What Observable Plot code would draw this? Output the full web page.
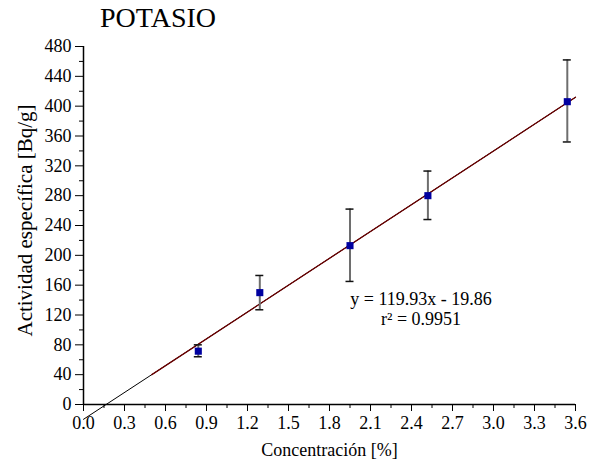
<!DOCTYPE html>
<html>
<head>
<meta charset="utf-8">
<script src="https://cdn.jsdelivr.net/npm/d3@7"></script>
<script src="https://cdn.jsdelivr.net/npm/@observablehq/plot@0.6"></script>
<style>
  body { margin: 0; background: #fff; }
  #wrap { position: relative; width: 598px; height: 470px; }
  #title { position: absolute; left: 100px; top: 2px; font-size: 28px; color: #000; }
  svg text, svg tspan, #title { font-family: 'Liberation Serif', 'Times New Roman', serif !important; }
</style>
</head>
<body>
<div id="wrap"><div id="title">POTASIO</div></div>
<script>
// Data
const concentration = [0.84, 1.29, 1.95, 2.52, 3.54];
const activity      = [71.5, 150, 213, 280, 406];
const errLow        = [64, 127, 165, 248, 352];
const errHigh       = [80, 173, 262, 313, 462];

// Fit line (y = 119.93x - 19.86)
const fitFullX = [0, 3.6];
const fitFullY = [-19.86, 411.89];
const fitPartX = [0.5, 3.6];
const fitPartY = [40.1, 411.89];

const xTicks = [0, 0.3, 0.6, 0.9, 1.2, 1.5, 1.8, 2.1, 2.4, 2.7, 3.0, 3.3, 3.6];
const xMinor = [0.15, 0.45, 0.75, 1.05, 1.35, 1.65, 1.95, 2.25, 2.55, 2.85, 3.15, 3.45];
const yTicks = [0, 40, 80, 120, 160, 200, 240, 280, 320, 360, 400, 440, 480];
const yMinor = [20, 60, 100, 140, 180, 220, 260, 300, 340, 380, 420, 460];

const annotations = ["y = 119.93x - 19.86", "r² = 0.9951"];
const annotX = [2.47, 2.47];
const annotY = [141, 114];

const points = concentration.map((c, i) => ({x: c, y: activity[i], lo: errLow[i], hi: errHigh[i]}));
const fitFull = fitFullX.map((x, i) => ({x, y: fitFullY[i]}));
const fitPart = fitPartX.map((x, i) => ({x, y: fitPartY[i]}));
const notes = annotations.map((t, i) => ({t, x: annotX[i], y: annotY[i]}));

const FF = "'Liberation Serif', serif";

const chart = Plot.plot({
  width: 598,
  height: 470,
  marginLeft: 83,
  marginRight: 23,
  marginTop: 46,
  marginBottom: 66,
  style: {fontFamily: FF, fontSize: "18px", color: "#000", background: "#fff"},
  x: {domain: [0, 3.6]},
  y: {domain: [0, 480]},
  marks: [
    Plot.axisY({ticks: yTicks, tickSize: 8, tickPadding: 4, fontSize: 18, fontFamily: FF, label: null, tickFormat: d => String(d)}),
    Plot.axisY({ticks: yMinor, tickSize: 4, text: null, label: null}),
    Plot.axisX({ticks: xTicks, tickSize: 7, tickPadding: 5, fontSize: 18, fontFamily: FF, label: null, tickFormat: d => d.toFixed(1)}),
    Plot.axisX({ticks: xMinor, tickSize: 4, text: null, label: null}),
    Plot.ruleX([0], {y1: 0, y2: 480, stroke: "#000", strokeWidth: 1.5}),
    Plot.ruleY([0], {x1: 0, x2: 3.6, stroke: "#000", strokeWidth: 1.5}),
    Plot.line(fitFull, {x: "x", y: "y", stroke: "#000", strokeWidth: 1}),
    Plot.line(fitPart, {x: "x", y: "y", stroke: "#6b0000", strokeWidth: 1.3}),
    Plot.ruleX(points, {x: "x", y1: "lo", y2: "hi", stroke: "#6e6e6e", strokeWidth: 2}),
    Plot.ruleY(points, {y: "lo", x1: "x", x2: "x", insetLeft: -4, insetRight: -4, stroke: "#111", strokeWidth: 1.5}),
    Plot.ruleY(points, {y: "hi", x1: "x", x2: "x", insetLeft: -4, insetRight: -4, stroke: "#111", strokeWidth: 1.5}),
    Plot.dot(points, {x: "x", y: "y", symbol: "square", r: 4, fill: "#0000a0", stroke: "none"}),
    Plot.text(notes, {x: "x", y: "y", text: "t", fontSize: 18, fontFamily: FF, fill: "#000"}),
    Plot.text(["Actividad específica [Bq/g]"], {frameAnchor: "left", textAnchor: "middle", rotate: -90, dx: -58, dy: -5, fontSize: 21, fontFamily: FF, fill: "#000"}),
    Plot.text(["Concentración [%]"], {frameAnchor: "bottom", dy: 51, fontSize: 18, fontFamily: FF, fill: "#000"})
  ]
});
document.getElementById("wrap").appendChild(chart);
</script>
</body>
</html>
